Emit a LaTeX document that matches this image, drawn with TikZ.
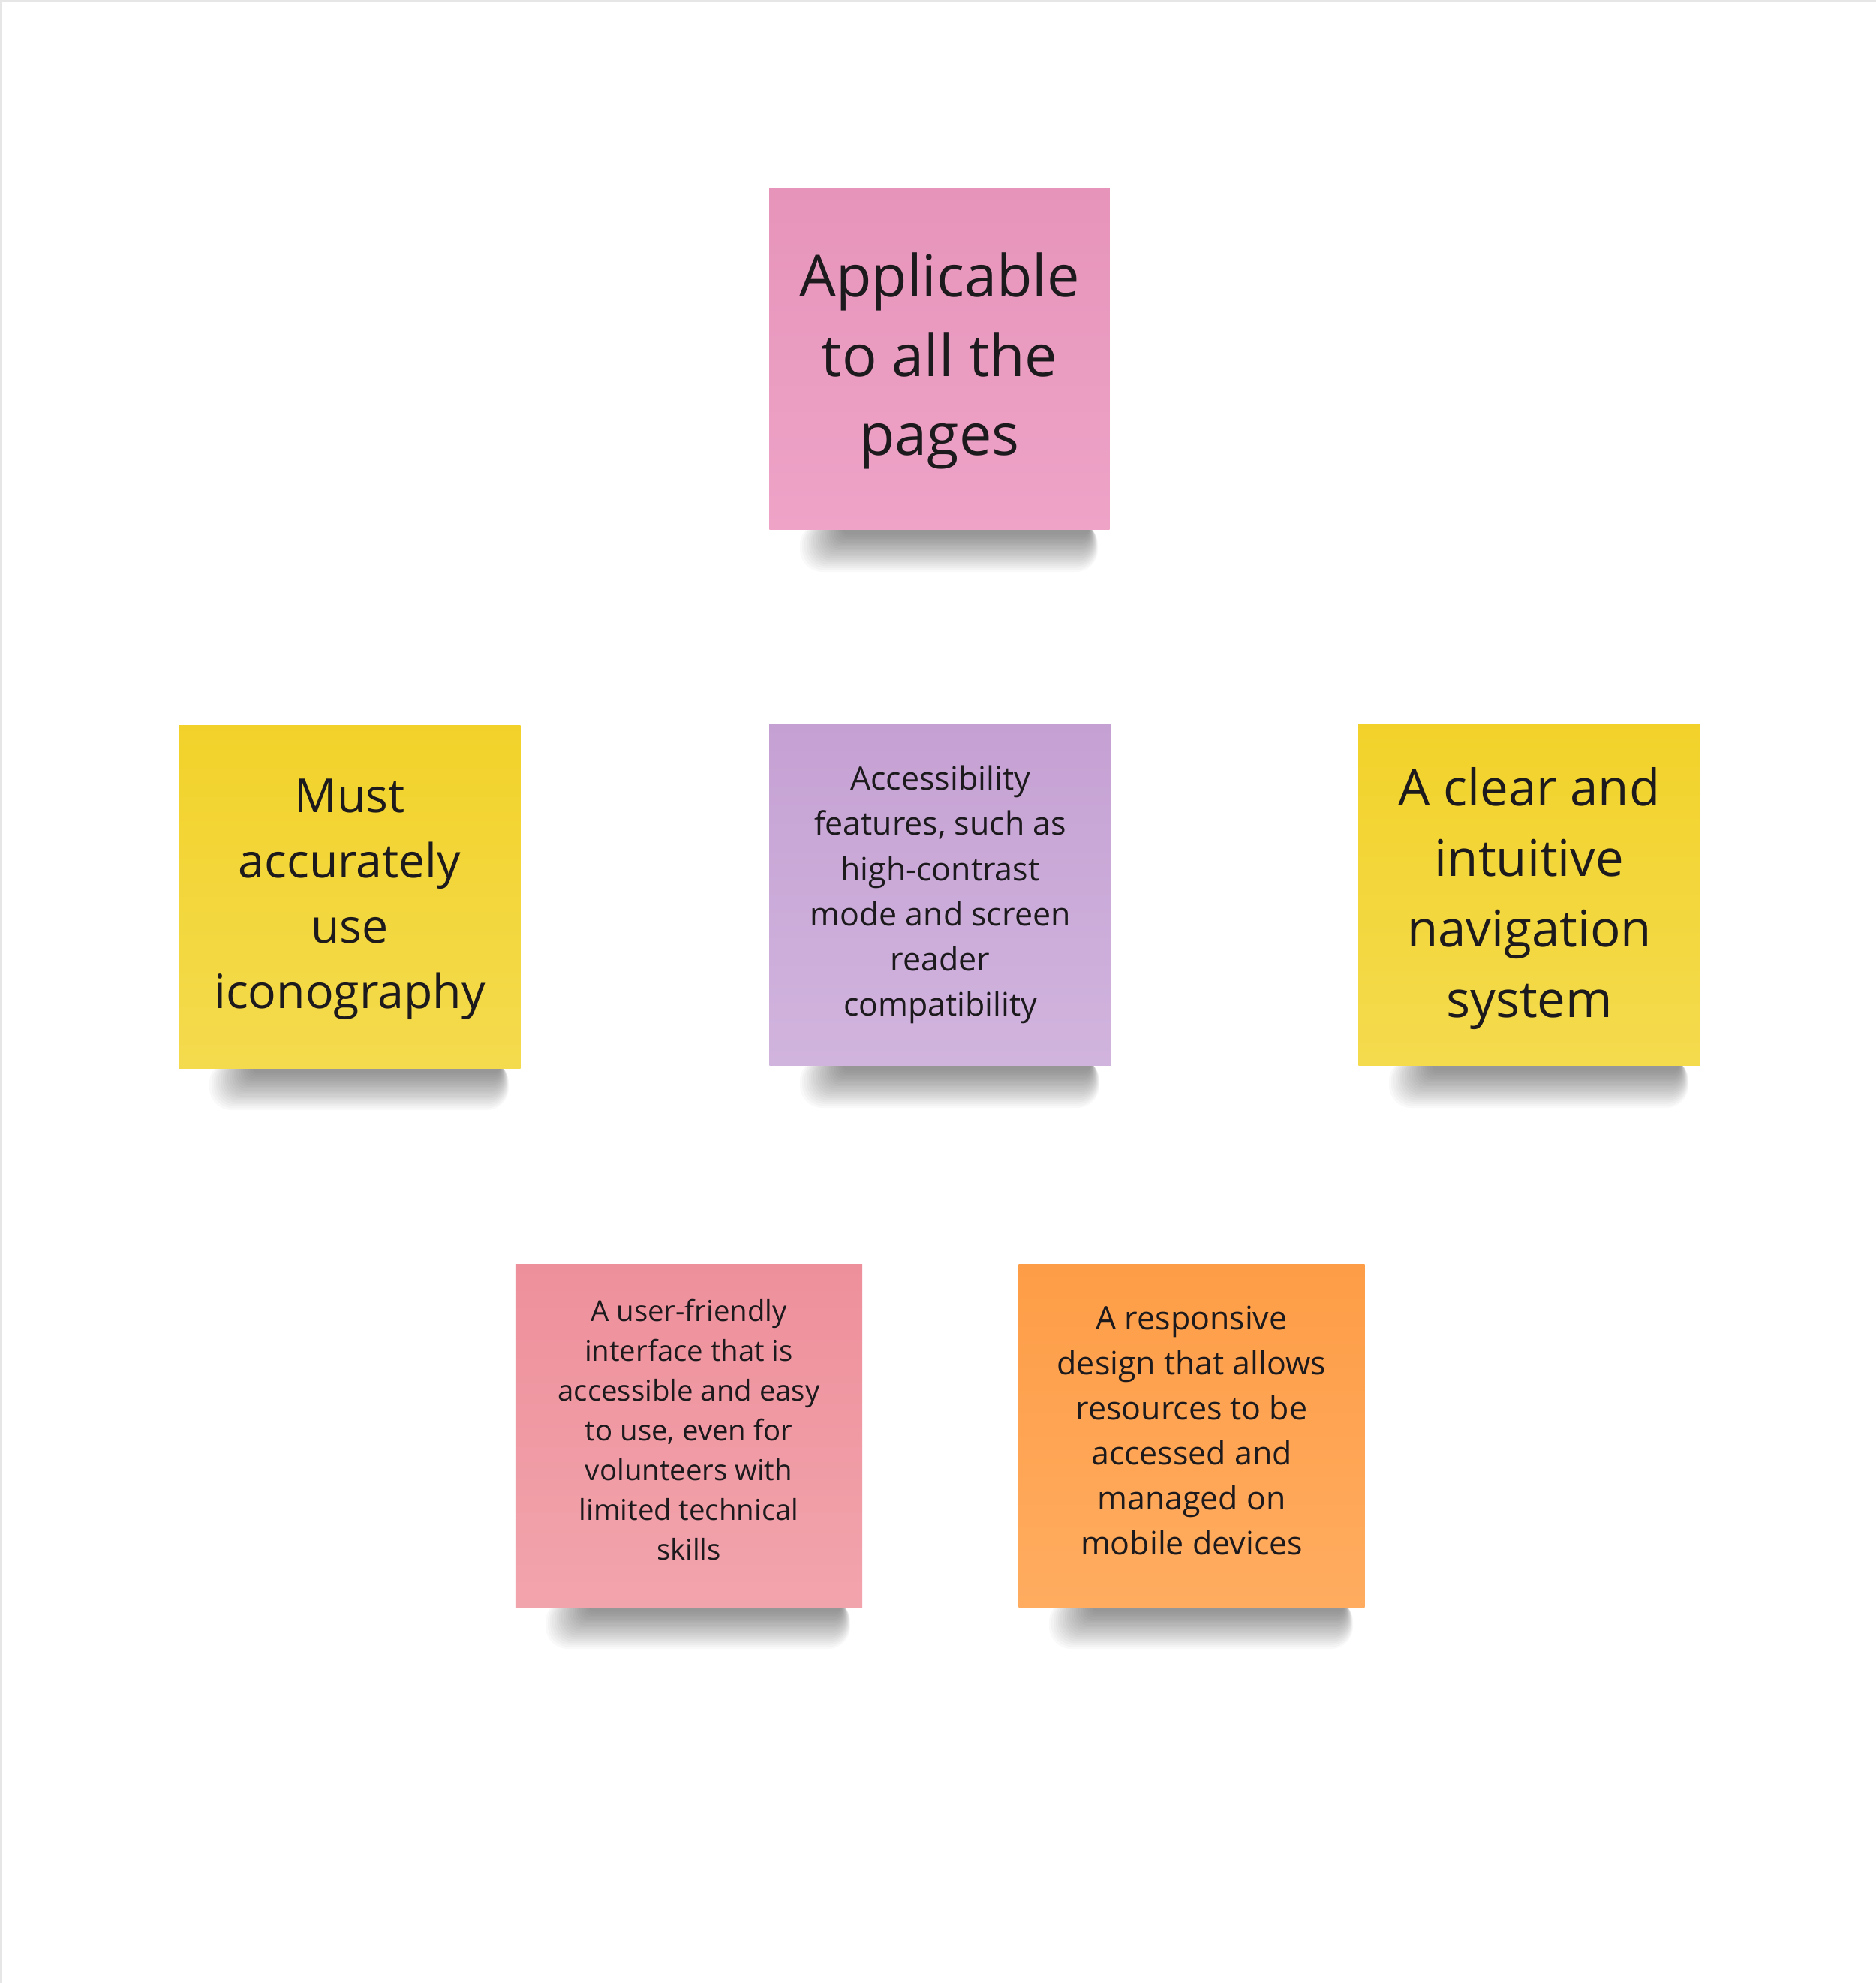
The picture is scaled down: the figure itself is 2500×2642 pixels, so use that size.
\documentclass[tikz,border=0pt]{standalone}
\usepackage{fontspec}
\setmainfont{Open Sans}
\definecolor{ink}{HTML}{1C1A1C}
\definecolor{pinkT}{HTML}{E794BA}
\definecolor{pinkB}{HTML}{EEA3C7}
\definecolor{yelT}{HTML}{F2D22A}
\definecolor{yelB}{HTML}{F4DB4E}
\definecolor{purT}{HTML}{C5A1D3}
\definecolor{purB}{HTML}{D1B4DE}
\definecolor{roseT}{HTML}{EE909C}
\definecolor{roseB}{HTML}{F2A4AC}
\definecolor{oraT}{HTML}{FE9D47}
\definecolor{oraB}{HTML}{FFAC60}
\definecolor{frame}{HTML}{E6E6E6}
\newcommand{\noteshadow}[3]{%
  \foreach \k in {1,...,20}{%
    \fill[black, opacity=0.024, rounded corners={(1.8+0.33*\k)*1pt}]
      ({#1+100-\k*3}, {#3-10}) rectangle ({#2-28+\k*0.6}, {#3+4+\k*2.6});
  }}
\tikzset{
  paper/.style={minimum width=4.55cm, minimum height=4.55cm, inner sep=0pt},
  txt/.style={inner sep=0pt, align=center, text=ink},
  fbig/.style={font=\fontsize{22}{30}\selectfont},
  fyl/.style={font=\fontsize{17.8}{24.8}\selectfont},
  fyr/.style={font=\fontsize{19.1}{26.7}\selectfont},
  fmid/.style={font=\fontsize{12.2}{17.1}\selectfont},
  fsmall/.style={font=\fontsize{10.9}{15.1}\selectfont},
}
\begin{document}
\begin{tikzpicture}[x=0.01cm, y=-0.01cm]
\useasboundingbox (0,0) rectangle (2500,2642);
\fill[white] (0,0) rectangle (2500,2642);
\draw[frame, line width=1.2pt] (0,2642) -- (0,0) -- (2500,0);

% shadows
\noteshadow{1026}{1479}{706}
\noteshadow{239}{694}{1423}
\noteshadow{1026}{1481}{1420}
\noteshadow{1811}{2266}{1420}
\noteshadow{687}{1149}{2141}
\noteshadow{1358}{1819}{2141}

% papers
\node[paper, top color=pinkT, bottom color=pinkB, minimum width=4.53cm]
  (pages) at (1252,478) {};
\node[paper, top color=yelT, bottom color=yelB, minimum height=4.56cm]
  (icons) at (466,1195) {};
\node[paper, top color=purT, bottom color=purB]
  (access) at (1253,1192) {};
\node[paper, top color=yelT, bottom color=yelB]
  (nav) at (2038,1192) {};
\node[paper, top color=roseT, bottom color=roseB, minimum width=4.62cm, minimum height=4.56cm]
  (ui) at (918,1913) {};
\node[paper, top color=oraT, bottom color=oraB, minimum width=4.61cm, minimum height=4.56cm]
  (resp) at (1588,1913) {};

% texts
\node[txt, fbig] (pagesT) at (1252,481) {Applicable\\to all the\\pages};
\node[txt, fyl] (iconsT) at (466,1198) {Must\\accurately\\use\\iconography};
\node[txt, fmid] (accessT) at (1253,1192) {Accessibility\\features, such as\\high-contrast\\mode and screen\\reader\\compatibility};
\node[txt, fyr] (navT) at (2038,1197) {A clear and\\intuitive\\navigation\\system};
\node[txt, fsmall] (uiT) at (918,1905) {A user-friendly\\interface that is\\accessible and easy\\to use, even for\\volunteers with\\limited technical\\skills};
\node[txt, fmid] (respT) at (1588,1906) {A responsive\\design that allows\\resources to be\\accessed and\\managed on\\mobile devices};
\end{tikzpicture}
\end{document}
